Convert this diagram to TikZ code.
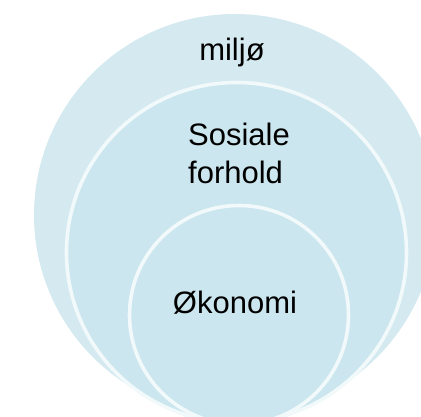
\documentclass[tikz,border=0pt]{standalone}
\usepackage{fontspec}
\setmainfont{Liberation Sans}
\definecolor{outerblue}{HTML}{D4EAF0}
\definecolor{innerblue}{HTML}{CBE6EE}
\definecolor{ringwhite}{HTML}{F2F9FB}
\begin{document}
\begin{tikzpicture}[x=1pt,y=-1pt,
  ring/.style={fill=innerblue,draw=ringwhite,line width=3.6pt},
  lbl/.style={font=\fontsize{31}{38}\selectfont,inner sep=0pt,anchor=base}]
\useasboundingbox (0,0) rectangle (421,416);
\clip (0,0) rectangle (421,416);
\fill[outerblue] (235,215) circle[radius=201];
\draw[ring] (236.5,252.5) circle[radius=170];
\draw[ring] (239,315) circle[radius=109.5];
\node[lbl] (miljo) at (232,60) {miljø};
\node[lbl,anchor=base west] (sos) at (188,145) {Sosiale};
\node[lbl,anchor=base west] (forh) at (188,183) {forhold};
\node[lbl] (oko) at (235,313) {Økonomi};
\end{tikzpicture}
\end{document}
